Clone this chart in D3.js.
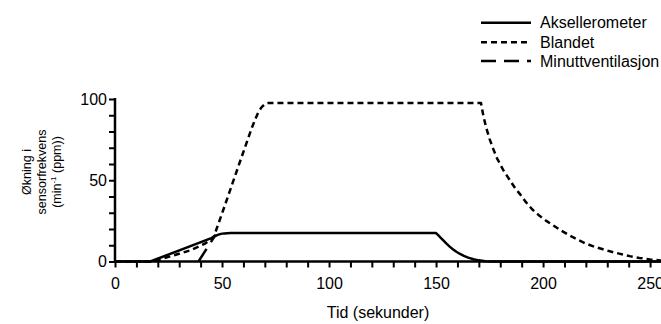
<!DOCTYPE html>
<html><head><meta charset="utf-8">
<script src="https://cdn.jsdelivr.net/npm/d3@7"></script>
<style>
body{margin:0;background:#fff}
svg text{font-family:"Liberation Sans",Arial,Helvetica,sans-serif;fill:#000}
</style>
</head><body>
<svg id="chart" width="661" height="324"></svg>
<script>
// ---- data ----
const seriesNames = ["Aksellerometer", "Blandet", "Minuttventilasjon"];
const akselerometer = [[0,0],[16.5,0],[45,14.4],[46.5,15.5],[48,16.4],[49.5,17],[51,17.3],[54,17.5],[150,17.5],[151,16.2],[152.2,14.6],[153.5,12.8],[155,10.8],[156.5,9],[158,7.4],[159.5,6],[161,4.8],[163,3.5],[165,2.4],[167.5,1.4],[170,0.7],[173,0.2],[176,0],[255,0]];
const blandet = [[0,0],[18,0],[27,3.6],[35,6.8],[42,11],[46,14.6],[50,29.5],[55,48.5],[60,67.5],[64,82.5],[65.5,87.5],[67,92],[68.5,95],[70,96.8],[71.5,97.5],[171,97.5],[172.2,89],[173.5,82],[175,75.5],[176.5,70],[178.5,63.5],[181.5,56],[184.5,50],[187,45],[189.5,41],[192,36.5],[195,32],[198,28.5],[201.5,25],[205,22],[208.5,19],[212,16.3],[216,13.5],[220,11],[224,9.1],[228,7.5],[232,6],[236,4.7],[240.5,3.3],[245,2.2],[250,1.3],[255,0.6]];
const minuttventilasjon = [[39,0],[47,16.5]];
const xTickValues = [0,10,20,30,40,50,60,70,80,90,100,110,120,130,140,150,160,170,180,190,200,210,220,230,240,250];
const xTickLabels = [0,50,100,150,200,250];
const yTickValues = [0,10,20,30,40,50,60,70,80,90,100];
const yTickLabels = [0,50,100];
const xTitle = "Tid (sekunder)";
const yTitleLines = ["Økning i", "sensorfrekvens"];

// ---- drawing ----
const svg = d3.select("#chart");
const x = d3.scaleLinear().domain([0, 255.1]).range([115, 661]);
const y = d3.scaleLinear().domain([0, 100]).range([261.5, 99]);

const line = d3.line().x(d => x(d[0])).y(d => y(d[1])).curve(d3.curveLinear);

const styles = [
  {data: akselerometer, dash: null},
  {data: blandet, dash: "6,4"},
  {data: minuttventilasjon, dash: "15,8"}
];

svg.append("g").selectAll("path").data(styles).join("path")
  .attr("d", d => line(d.data))
  .attr("fill", "none")
  .attr("stroke", "#000")
  .attr("stroke-width", 2.5)
  .attr("stroke-linejoin", "round")
  .attr("stroke-dasharray", d => d.dash);

// x axis
const xAxis = svg.append("g").attr("transform", `translate(0,${y(0)})`)
  .call(d3.axisBottom(x).tickValues(xTickValues).tickSize(6).tickPadding(10)
    .tickFormat(d => xTickLabels.includes(d) ? d : ""));
xAxis.select(".domain").remove();
xAxis.selectAll(".tick line").attr("stroke", "#000").attr("stroke-width", 2);
xAxis.selectAll(".tick text").attr("font-size", 16).attr("font-family", null);
svg.append("line").attr("x1", x(0) - 1).attr("x2", 661).attr("y1", y(0)).attr("y2", y(0))
  .attr("stroke", "#000").attr("stroke-width", 2.5);

// y axis
const yAxis = svg.append("g").attr("transform", `translate(${x(0)},0)`)
  .call(d3.axisLeft(y).tickValues(yTickValues).tickSize(6).tickPadding(2)
    .tickFormat(d => yTickLabels.includes(d) ? d : ""));
yAxis.select(".domain").remove();
yAxis.selectAll(".tick line").attr("stroke", "#000").attr("stroke-width", 2);
yAxis.selectAll(".tick text").attr("font-size", 16).attr("font-family", null);
svg.append("line").attr("x1", x(0)).attr("x2", x(0)).attr("y1", y(100) - 1).attr("y2", y(0) + 1)
  .attr("stroke", "#000").attr("stroke-width", 2.5);

// axis titles
svg.append("text").attr("x", 378).attr("y", 318).attr("text-anchor", "middle")
  .attr("font-size", 16).text(xTitle);

const yt = [30.5, 45.5];
yTitleLines.forEach((t, i) => {
  svg.append("text").attr("transform", `translate(${yt[i]},172) rotate(-90)`)
    .attr("text-anchor", "middle").attr("font-size", 12.5).text(t);
});
const t3 = svg.append("text").attr("transform", `translate(61,172) rotate(-90)`)
  .attr("text-anchor", "middle").attr("font-size", 12.5);
t3.append("tspan").text("(min");
t3.append("tspan").attr("font-size", 8).attr("dy", -5).text("-1");
t3.append("tspan").attr("dy", 5).text(" (ppm))");

// legend
const legend = svg.append("g");
const rows = [22.7, 42.3, 61];
seriesNames.forEach((name, i) => {
  legend.append("line").attr("x1", 481).attr("x2", 531).attr("y1", rows[i]).attr("y2", rows[i])
    .attr("stroke", "#000").attr("stroke-width", 2.5)
    .attr("stroke-dasharray", styles[i].dash);
  legend.append("text").attr("x", 540).attr("y", rows[i] + 5.7).attr("font-size", 16).text(name);
});
</script>
</body></html>
